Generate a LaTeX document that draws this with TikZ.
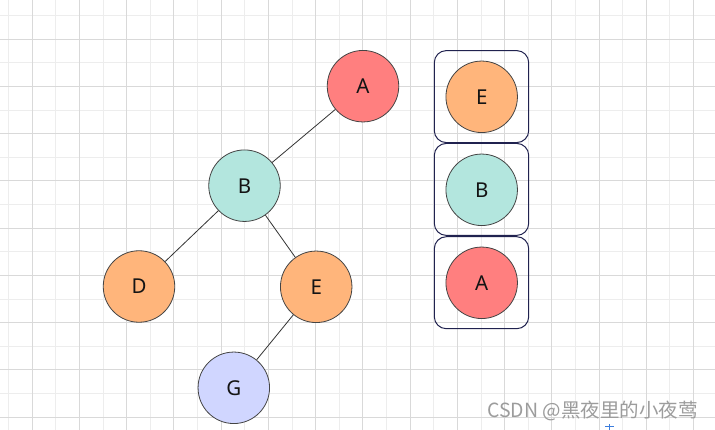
\documentclass[tikz,border=0pt]{standalone}
\usepackage{fontspec}
\setmainfont{Noto Sans}
\newfontfamily\cjkfont{Noto Sans CJK SC}
\definecolor{gridmajor}{HTML}{D9D9D9}
\definecolor{gridminor}{HTML}{EDEDED}
\definecolor{cred}{HTML}{FF7F7F}
\definecolor{cteal}{HTML}{B3E6DE}
\definecolor{corange}{HTML}{FFB57B}
\definecolor{cblue}{HTML}{D0D6FF}
\definecolor{nodeline}{HTML}{444444}
\definecolor{boxline}{HTML}{20224F}
\definecolor{edgecol}{HTML}{333333}
\definecolor{wmark}{HTML}{9C9C9C}
\definecolor{marker}{HTML}{3B7DDD}
\begin{document}
\begin{tikzpicture}[x=1pt,y=-1pt,
  treenode/.style={circle,draw=nodeline,line width=0.8pt,minimum size=71.5pt,inner sep=0pt,font=\fontsize{20.5}{20.5}\selectfont,text=black!92},
  stackbox/.style={rectangle,draw=boxline,line width=1pt,rounded corners=12pt,minimum width=94.4pt,minimum height=92pt,inner sep=0pt},
  edge/.style={draw=edgecol,line width=0.8pt}]
\useasboundingbox (0,0) rectangle (715,430);
\fill[white] (0,0) rectangle (715,430);
% grid
\foreach \k in {0,...,15}{\draw[gridminor,line width=1pt] ({8.7+47.23*\k},0) -- ({8.7+47.23*\k},430);}
\foreach \k in {0,...,8}{\draw[gridminor,line width=1pt] (0,{15.7+47.23*\k}) -- (715,{15.7+47.23*\k});}
\foreach \k in {0,...,14}{\draw[gridmajor,line width=1pt] ({32.3+47.23*\k},0) -- ({32.3+47.23*\k},430);}
\foreach \k in {0,...,8}{\draw[gridmajor,line width=1pt] (0,{39.3+47.23*\k}) -- (715,{39.3+47.23*\k});}
% tree
\node[treenode,fill=cred]    (A) at (363,86.2)   {A};
\node[treenode,fill=cteal]   (B) at (244.5,185.7) {B};
\node[treenode,fill=corange] (D) at (139,286.5)  {D};
\node[treenode,fill=corange] (E) at (316.2,286.8) {E};
\node[treenode,fill=cblue]   (G) at (233.8,387.8) {G};
\draw[edge] (A) -- (B);
\draw[edge] (B) -- (D);
\draw[edge] (B) -- (E);
\draw[edge] (E) -- (G);
% stack
\node[stackbox] (s1) at (481.5,96.6) {};
\node[stackbox] (s2) at (481.5,189.4) {};
\node[stackbox] (s3) at (481.5,282.7) {};
\node[treenode,fill=corange] (SE) at (481.7,96.8)  {E};
\node[treenode,fill=cteal]   (SB) at (481.7,189.8) {B};
\node[treenode,fill=cred]    (SA) at (481.7,282.8) {A};
% watermark
\node[anchor=west,inner sep=0pt,text=wmark,font=\cjkfont\fontsize{19.5}{20}\selectfont] (wm) at (487,410.5) {CSDN @黑夜里的小夜莺};
% small blue marker
\draw[marker,line width=0.8pt] (605,426.8) -- (614,426.8);
\draw[marker,line width=0.8pt] (609.5,424) -- (609.5,430);
\end{tikzpicture}
\end{document}
